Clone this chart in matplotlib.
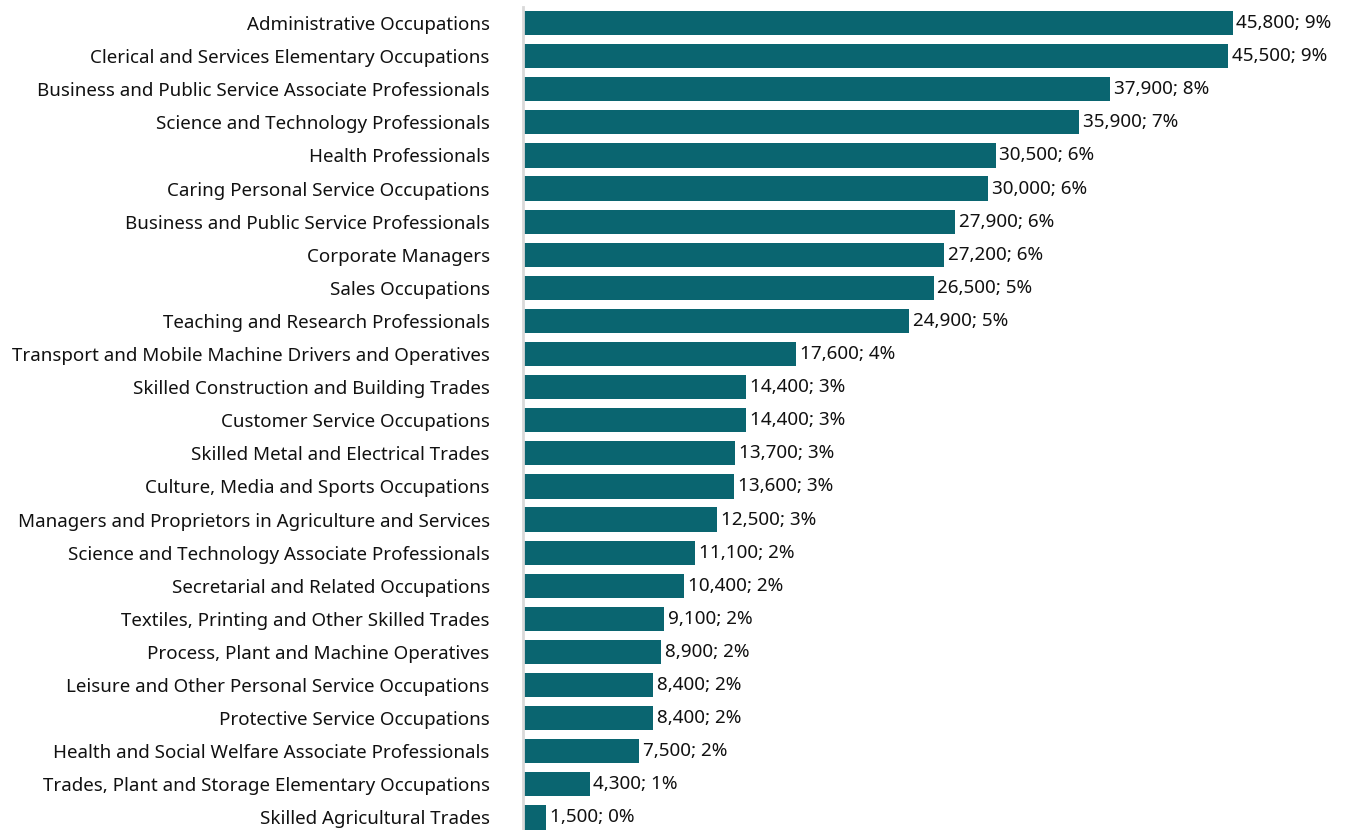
import matplotlib
matplotlib.use("Agg")
import matplotlib.pyplot as plt

occupations = [
    "Administrative Occupations",
    "Clerical and Services Elementary Occupations",
    "Business and Public Service Associate Professionals",
    "Science and Technology Professionals",
    "Health Professionals",
    "Caring Personal Service Occupations",
    "Business and Public Service Professionals",
    "Corporate Managers",
    "Sales Occupations",
    "Teaching and Research Professionals",
    "Transport and Mobile Machine Drivers and Operatives",
    "Skilled Construction and Building Trades",
    "Customer Service Occupations",
    "Skilled Metal and Electrical Trades",
    "Culture, Media and Sports Occupations",
    "Managers and Proprietors in Agriculture and Services",
    "Science and Technology Associate Professionals",
    "Secretarial and Related Occupations",
    "Textiles, Printing and Other Skilled Trades",
    "Process, Plant and Machine Operatives",
    "Leisure and Other Personal Service Occupations",
    "Protective Service Occupations",
    "Health and Social Welfare Associate Professionals",
    "Trades, Plant and Storage Elementary Occupations",
    "Skilled Agricultural Trades",
]
counts = [45800, 45500, 37900, 35900, 30500, 30000, 27900, 27200, 26500, 24900,
          17600, 14400, 14400, 13700, 13600, 12500, 11100, 10400, 9100, 8900,
          8400, 8400, 7500, 4300, 1500]
shares = [9, 9, 8, 7, 6, 6, 6, 6, 5, 5,
          4, 3, 3, 3, 3, 3, 2, 2, 2, 2,
          2, 2, 2, 1, 0]

plt.rcParams['font.family'] = ['Noto Sans', 'DejaVu Sans']

fig = plt.figure(figsize=(13.55, 8.3), dpi=100)
ax = fig.add_axes([523 / 1355, -4 / 830, 832 / 1355, 827.5 / 830])

ypos = list(range(len(occupations)))
ax.barh(ypos, counts, height=0.73, color="#0a6570")

for y, c, s in zip(ypos, counts, shares):
    ax.text(c + 250, y, f"{c:,}; {s}%", va="center", ha="left", fontsize=13.6, color="#111111")

ax.set_yticks(ypos)
ax.set_yticklabels(occupations, fontsize=13.5, color="#111111")
# pad is in points: ~33 px gap between labels and axis line
ax.tick_params(axis="y", length=0, pad=24)
ax.set_ylim(len(occupations) - 0.5, -0.5)
ax.set_xlim(0, 53700)
ax.set_xticks([])

for side in ["top", "right", "bottom"]:
    ax.spines[side].set_visible(False)
ax.spines["left"].set_color("#d9d9d9")
ax.spines["left"].set_linewidth(2)

fig.savefig("out.png", dpi=100)
